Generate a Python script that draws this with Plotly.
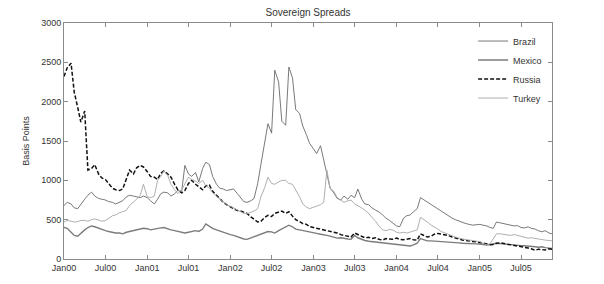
import pandas as pd
import plotly.graph_objects as go

# semi-monthly observation dates, Jan 2000 .. mid Nov 2005
dates = []
for y in range(2000, 2006):
    for m in range(1, 13):
        for d in (1, 15):
            dates.append(f"{y}-{m:02d}-{d:02d}")
dates = dates[:142]

brazil = [680, 720, 700, 650, 640, 700, 760, 810, 850, 800, 770, 760, 750, 730, 720, 700,
          720, 740, 790, 810, 800, 790, 780, 800, 780, 740, 700, 760, 830, 850, 840, 800,
          830, 870, 860, 1190, 1080, 1050, 1100, 980, 1150, 1230, 1200, 1050, 950, 900, 890, 870,
          880, 890, 830, 780, 730, 720, 740, 770, 960, 1200, 1500, 1720, 1600, 2400, 2250, 1750,
          1700, 2440, 2300, 1900, 1850, 1690, 1580, 1470, 1400, 1340, 1440, 1250, 1090, 900, 840, 770,
          750, 800, 760, 810, 780, 890, 760, 700, 690, 650, 620, 600, 560, 520, 490, 460,
          420, 410, 520, 550, 560, 600, 640, 780, 750, 720, 690, 665, 630, 610, 570, 550,
          520, 500, 480, 470, 450, 440, 430, 435, 440, 430, 420, 400, 390, 470, 460, 450,
          440, 430, 420, 425, 400, 395, 410, 390, 380, 360, 345, 360, 330, 320]

mexico = [400, 390, 340, 300, 290, 330, 370, 400, 420, 410, 390, 370, 360, 350, 340, 330,
          330, 320, 340, 350, 360, 370, 380, 390, 385, 370, 380, 390, 395, 400, 380, 370,
          360, 350, 345, 330, 340, 345, 360, 350, 380, 445, 410, 390, 370, 355, 345, 330,
          310, 300, 280, 265, 255, 250, 270, 280, 300, 320, 340, 350, 345, 330, 360, 380,
          400, 430, 410, 380, 370, 360, 350, 340, 335, 325, 315, 310, 300, 290, 280, 265,
          270, 260, 255, 250, 300, 270, 250, 235, 225, 220, 215, 210, 210, 205, 200, 195,
          190, 185, 180, 170, 165, 180, 200, 260, 240, 230, 230, 228, 225, 222, 220, 218,
          215, 210, 205, 200, 200, 198, 195, 192, 190, 185, 178, 185, 195, 200, 195, 190,
          185, 182, 180, 178, 170, 168, 160, 158, 155, 150, 155, 145, 140, 135]

russia = [2320, 2430, 2490, 2120, 1930, 1740, 1880, 1130, 1150, 1200, 1080, 1030, 1010, 960, 900, 880,
          870, 890, 1020, 1130, 1080, 1160, 1190, 1170, 1110, 1050, 1040, 1010, 1090, 1120, 1080, 1040,
          950, 880, 840, 870, 960, 1000, 950, 920, 880, 930, 940, 860, 810, 760, 720, 690,
          660, 640, 615, 610, 595, 580, 535, 500, 470, 480, 530, 555, 540, 580, 600, 610,
          580, 600, 545, 500, 475, 450, 440, 411, 400, 390, 385, 370, 360, 350, 345, 330,
          310, 300, 290, 280, 330, 310, 290, 270, 275, 260, 270, 250, 240, 260, 255, 250,
          265, 250, 245, 255, 260, 245, 240, 320, 300, 280, 290, 315, 325, 320, 310, 300,
          280, 265, 255, 242, 235, 225, 222, 218, 215, 205, 190, 180, 185, 200, 205, 198,
          190, 185, 180, 170, 160, 150, 140, 130, 110, 125, 120, 115, 130, 125]

turkey = [470, 490, 480, 470, 475, 490, 490, 480, 500, 510, 495, 480, 490, 520, 550, 560,
          590, 600, 620, 680, 720, 760, 810, 950, 790, 780, 800, 1000, 1050, 1120, 1060, 950,
          880, 830, 880, 960, 1040, 1010, 990, 960, 1000, 930, 900, 840, 800, 760, 720, 690,
          670, 650, 620, 600, 580, 575, 590, 610, 640, 790, 910, 1040, 960, 950, 980, 1000,
          1000, 960, 950, 880, 790, 700, 660, 640, 660, 680, 690, 720, 1130, 900, 860, 780,
          750, 720, 740, 750, 700, 680, 650, 620, 580, 530, 480, 420, 370, 360, 375, 370,
          340, 330, 340, 330, 340, 350, 370, 530, 500, 470, 430, 410, 380, 350, 330, 310,
          290, 280, 265, 255, 245, 240, 235, 230, 220, 200, 180, 195, 250, 320, 320, 315,
          305, 300, 310, 300, 290, 280, 265, 270, 260, 255, 250, 240, 235, 230]

tick_dates = ["2000-01-01", "2000-07-01", "2001-01-01", "2001-07-01", "2002-01-01", "2002-07-01",
              "2003-01-01", "2003-07-01", "2004-01-01", "2004-07-01", "2005-01-01", "2005-07-01"]
tick_labels = ["Jan00", "Jul00", "Jan01", "Jul01", "Jan02", "Jul02",
               "Jan03", "Jul03", "Jan04", "Jul04", "Jan05", "Jul05"]
y_ticks = [0, 500, 1000, 1500, 2000, 2500, 3000]

x = pd.to_datetime(dates)

fig = go.Figure()
fig.add_trace(go.Scatter(x=x, y=brazil, name="Brazil", mode="lines",
                         line=dict(color="#6a6a6a", width=0.9)))
fig.add_trace(go.Scatter(x=x, y=mexico, name="Mexico", mode="lines",
                         line=dict(color="#7c7c7c", width=1.4)))
fig.add_trace(go.Scatter(x=x, y=russia, name="Russia", mode="lines",
                         line=dict(color="#111111", width=1.5, dash="4px,2px")))
fig.add_trace(go.Scatter(x=x, y=turkey, name="Turkey", mode="lines",
                         line=dict(color="#a6a6a6", width=0.9)))

axis_common = dict(showline=True, mirror="ticks", linecolor="#8a8a8a", linewidth=1,
                   ticks="inside", ticklen=4, tickcolor="#8a8a8a", showgrid=False,
                   zeroline=False, tickfont=dict(family="Liberation Sans, Arial", size=9, color="#333"))

fig.update_layout(
    width=604, height=284,
    margin=dict(l=64, r=52, t=23, b=25),
    paper_bgcolor="white", plot_bgcolor="white",
    title=dict(text="Sovereign Spreads", x=0.5, xref="paper", y=0.955, yanchor="middle",
               font=dict(family="Liberation Sans, Arial", size=10, color="#333")),
    xaxis=dict(range=["2000-01-01", "2005-11-14"], tickvals=pd.to_datetime(tick_dates),
               ticktext=tick_labels, **axis_common),
    yaxis=dict(range=[0, 3000], tickvals=y_ticks, title=dict(text="Basis Points", standoff=10,
               font=dict(family="Liberation Sans, Arial", size=9, color="#333")), **axis_common),
    legend=dict(x=0.99, xanchor="right", y=0.985, yanchor="top", bgcolor="rgba(0,0,0,0)",
                font=dict(family="Liberation Sans, Arial", size=9, color="#333"),
                itemwidth=30, tracegroupgap=0),
    showlegend=True,
)

fig.write_html("out.html")
